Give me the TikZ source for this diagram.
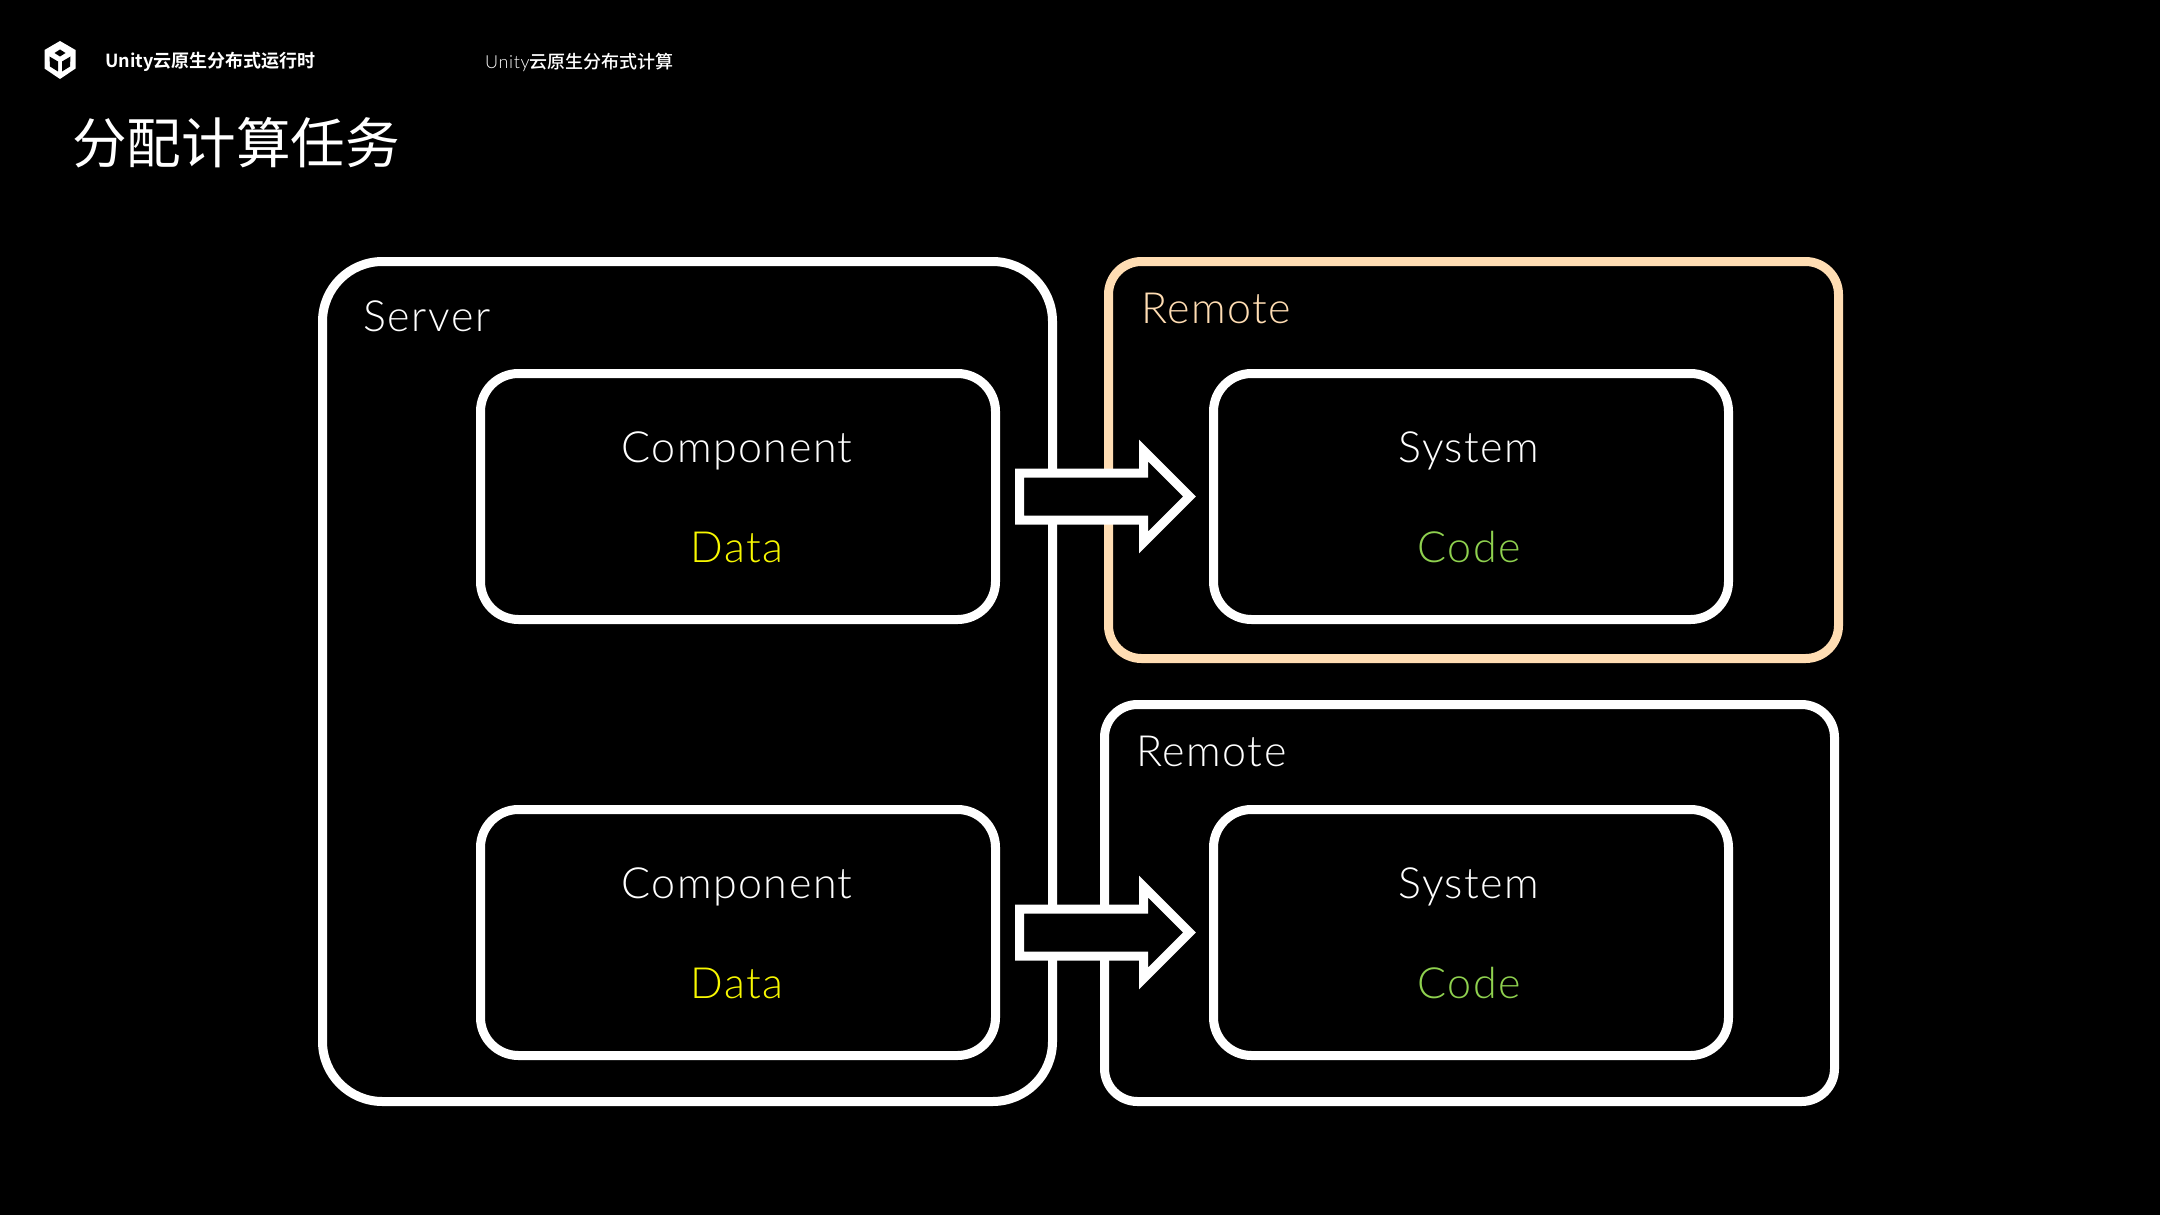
\documentclass[tikz,border=0pt]{standalone}
\usepackage{fontspec}
\usepackage{xcolor}
\usetikzlibrary{calc}
\setmainfont{Lato}[UprightFont=* Light,LetterSpace=3.5]
\newfontfamily\cjk{Noto Sans CJK SC}
\newfontfamily\cjkmed{Noto Sans CJK SC Medium}
\newfontfamily\cjkbold{Noto Sans CJK SC Bold}
\definecolor{peach}{HTML}{FFDDB3}
\definecolor{datac}{HTML}{F8F800}
\definecolor{codec}{HTML}{8FD14F}
\tikzset{
  frame/.style={draw=white,line width=9pt,rounded corners=#1,fill=black,outer sep=0pt,inner sep=0pt},
  lbl/.style={anchor=base,inner sep=0pt,text=white,font=\fontsize{43}{50}\selectfont},
  blockarrow/.style={draw=white,line width=9pt,fill=black,miter limit=10},
  head/.style={anchor=west,inner sep=0pt,text=white}
}
\begin{document}
\begin{tikzpicture}[x=1pt,y=-1pt]
\useasboundingbox (0,0) rectangle (2160,1215);
\fill[black] (0,0) rectangle (2160,1215);
% logo
\fill[white] (60,41) -- (75.5,50) -- (75.5,68.5) -- (60,79) -- (44.5,68.5) -- (44.5,50) -- cycle;
\fill[black] (60,49.5) -- (65.5,53) -- (60,56.5) -- (54.5,53) -- cycle;
\fill[black] (49.5,56.5) -- (58,61.5) -- (58,71.5) -- (50,66.5) -- cycle;
\fill[black] (70.5,56.5) -- (62,61.5) -- (62,71.5) -- (70,66.5) -- cycle;
% header
\node[head,font=\fontsize{18}{22}\cjkbold] (crumbA) at (105,62) {Unity云原生分布式运行时};
\node[head,font=\fontsize{18}{22}\selectfont] (crumbB) at (485,62) {Unity{\cjkmed 云原生分布式计算}};
\node[head,font=\fontsize{54.6}{64}\cjk] (title) at (72,142.5) {分配计算任务};
% outer frames
\node[frame=60pt,minimum width=730pt,minimum height=840pt] (server) at (687.5,681.5) {};
\node[frame=33pt,draw=peach,minimum width=730pt,minimum height=397pt] (remoteA) at (1473.5,460) {};
\node[frame=33pt,minimum width=730pt,minimum height=397pt] (remoteB) at (1469.5,903) {};
\node[lbl] (serverT) at (427,331.5) {Server};
\node[lbl,text=peach] (remoteAT) at (1216,323.5) {Remote};
\node[lbl] (remoteBT) at (1211.5,766) {Remote};
% inner boxes
\node[frame=38pt,minimum width=515pt,minimum height=246pt] (compA) at (738,496.5) {};
\node[frame=38pt,minimum width=515pt,minimum height=246pt] (compB) at (738,932.5) {};
\node[frame=38pt,minimum width=515pt,minimum height=246pt] (sysA) at (1471,496.5) {};
\node[frame=38pt,minimum width=515pt,minimum height=246pt] (sysB) at (1471,932.5) {};
\foreach \n/\a/\b in {compA/Component/Data,compB/Component/Data}{
  \node[lbl] (\n T) at ($(\n.center)+(-1,-34)$) {\a};
  \node[lbl,text=datac] (\n D) at ($(\n.center)+(-1,65.5)$) {\b};
}
\foreach \n/\a/\b in {sysA/System/Code,sysB/System/Code}{
  \node[lbl] (\n T) at ($(\n.center)+(-2,-34)$) {\a};
  \node[lbl,text=codec] (\n D) at ($(\n.center)+(-2,65.5)$) {\b};
}
% arrows
\foreach \a/\b in {compA/sysA,compB/sysB}{
  \draw[blockarrow] ($(\a.east)+(24,-23.5)$) -- ++(124,0) -- ++(0,-22.5)
    -- ($(\b.west)+(-24,0)$) -- ($(\a.east)+(148,46)$) -- ++(0,-22.5) -- ++(-124,0) -- cycle;
}
\end{tikzpicture}
\end{document}
